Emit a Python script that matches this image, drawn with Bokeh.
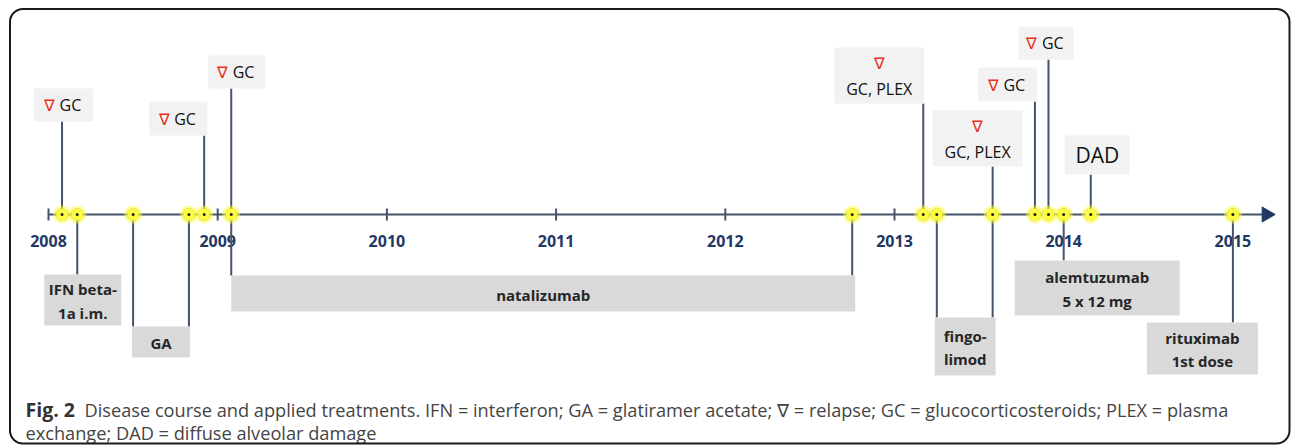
import math
from bokeh.plotting import figure
from bokeh.models import Range1d, BoxAnnotation
from bokeh.core.properties import value
from bokeh.embed import file_html
from bokeh.resources import INLINE

# ---------------- data ----------------
tick_years = [2008, 2009, 2010, 2011, 2012, 2013, 2014, 2015]
tick_labels = ["2008", "2009", "2010", "2011", "2012", "2013", "2014", "2015"]

relapse_dates = [2008.08, 2008.92, 2009.08, 2013.17, 2013.58, 2013.83, 2013.91]
relapse_therapy = ["GC", "GC", "GC", "GC, PLEX", "GC, PLEX", "GC", "GC"]

dad_dates = [2014.16]
dad_labels = ["DAD"]

treatment_names = ["IFN beta-\n1a i.m.", "GA", "natalizumab", "fingo-\nlimod",
                   "alemtuzumab\n5 x 12 mg", "rituximab\n1st dose"]
treatment_start = [2008.17, 2008.50, 2009.08, 2013.25, 2014.00, 2015.00]
treatment_end = [2008.17, 2008.83, 2012.75, 2013.58, 2014.00, 2015.00]

caption_bold = "Fig. 2"
caption_line1 = ("Disease course and applied treatments. IFN = interferon; GA = glatiramer acetate; "
                 "\u2207 = relapse; GC = glucocorticosteroids; PLEX = plasma")
caption_line2 = "exchange; DAD = diffuse alveolar damage"

# ---------------- layout / style ----------------
W, H = 1292, 447
PX = 169.2                      # pixels per year
X0 = tick_years[0] - 48 / PX
X1 = X0 + W / PX


def px2x(px):
    """canvas x pixel -> data x"""
    return X0 + px / PX


AXIS_Y = 214
AXIS_COL = "#44546a"
YEAR_COL = "#1f3864"
FONT = value("Open Sans")

# callout boxes: (dx_left, dx_right) px around event, (top, bottom) px
relapse_box_dx = [(-28, 31), (-55, 3), (-23, 34), (-89, 1), (-60, 30), (-57, 2), (-30, 25)]
relapse_box_y = [(88, 121), (101, 135), (55, 88), (47, 103), (110, 166), (67, 101), (26, 59)]
dad_box_dx = [(-26, 39)]
dad_box_y = [(135, 174)]
treat_box_dx = [(-33, 44), (-1, 1), (0, 3), (-2, 3), (-49, 116), (-86, 25)]
treat_box_y = [(274, 325), (326, 357), (275, 311), (317, 375), (260, 315), (322, 374)]

p = figure(width=W, height=H, x_range=Range1d(X0, X1), y_range=Range1d(H, 0),
           output_backend="svg", toolbar_location=None, min_border=0)
p.axis.visible = False
p.grid.visible = False
p.outline_line_color = None
p.background_fill_color = "white"

# frame border
p.add_layout(BoxAnnotation(left=px2x(9.5), right=px2x(1289), top=8.5, bottom=443,
                           fill_color=None, fill_alpha=0, line_color="#1a1a1a",
                           line_alpha=1.0, line_width=2, border_radius=13))

# main time axis
p.segment(x0=[tick_years[0]], y0=[AXIS_Y], x1=[px2x(1262)], y1=[AXIS_Y],
          line_color=AXIS_COL, line_width=2)
p.scatter(x=[px2x(1266)], y=[AXIS_Y], marker="triangle", size=15, angle=-math.pi / 2,
          fill_color=YEAR_COL, line_color=YEAR_COL)
p.segment(x0=tick_years, y0=[AXIS_Y - 6] * len(tick_years), x1=tick_years,
          y1=[AXIS_Y + 6] * len(tick_years), line_color=AXIS_COL, line_width=2)
p.text(x=tick_years, y=[240] * len(tick_years), text=tick_labels, text_font=FONT,
       text_font_size="16px", text_font_style="bold", text_color=YEAR_COL,
       text_align="center", text_baseline="middle")


def box(l, r, t, b, color):
    p.quad(left=[l], right=[r], top=[t], bottom=[b], fill_color=color, line_color=None)


# relapse callouts (above)
for d, lab, (dl, dr), (t, b) in zip(relapse_dates, relapse_therapy, relapse_box_dx, relapse_box_y):
    p.segment(x0=[d], y0=[AXIS_Y], x1=[d], y1=[b], line_color=AXIS_COL, line_width=2)
    l, r = d + dl / PX, d + dr / PX
    box(l, r, t, b, "#f2f2f2")
    cx = (l + r) / 2
    if "," in lab:
        p.text(x=[cx], y=[t + 15], text=["\u2207"], text_font=FONT, text_font_size="16px",
               text_color="#e8321e", text_align="center", text_baseline="middle")
        p.text(x=[cx], y=[b - 15], text=[lab], text_font=FONT, text_font_size="16px",
               text_color="#111111", text_align="center", text_baseline="middle")
    else:
        ym = (t + b) / 2
        p.text(x=[cx], y=[ym], x_offset=-14, text=["\u2207"], text_font=FONT,
               text_font_size="16px", text_color="#e8321e", text_align="center",
               text_baseline="middle")
        p.text(x=[cx], y=[ym], x_offset=-4, text=[lab], text_font=FONT,
               text_font_size="16px", text_color="#111111", text_align="left",
               text_baseline="middle")

# DAD callout
for d, lab, (dl, dr), (t, b) in zip(dad_dates, dad_labels, dad_box_dx, dad_box_y):
    p.segment(x0=[d], y0=[AXIS_Y], x1=[d], y1=[b], line_color=AXIS_COL, line_width=2)
    l, r = d + dl / PX, d + dr / PX
    box(l, r, t, b, "#f2f2f2")
    p.text(x=[(l + r) / 2], y=[(t + b) / 2], text=[lab], text_font=FONT,
           text_font_size="21px", text_color="#111111", text_align="center",
           text_baseline="middle")

# treatment callouts (below)
for name, s, e, (dl, dr), (t, b) in zip(treatment_names, treatment_start, treatment_end,
                                        treat_box_dx, treat_box_y):
    stems = [s] if e == s else [s, e]
    p.segment(x0=stems, y0=[AXIS_Y] * len(stems), x1=stems, y1=[t] * len(stems),
              line_color=AXIS_COL, line_width=2)
    l, r = s + dl / PX, e + dr / PX
    box(l, r, t, b, "#d9d9d9")
    lines = name.split("\n")
    n = len(lines)
    ym = (t + b) / 2 + 1
    for i, ln in enumerate(lines):
        p.text(x=[(l + r) / 2], y=[ym + (i - (n - 1) / 2) * 23.5], text=[ln], text_font=FONT,
               text_font_size="15px", text_font_style="bold", text_color="#262626",
               text_align="center", text_baseline="middle")

# event markers on the axis
event_dates = sorted(set(relapse_dates + dad_dates + treatment_start + treatment_end))
ny = [AXIS_Y] * len(event_dates)
p.scatter(x=event_dates, y=ny, size=18, fill_color="#ffff33", fill_alpha=0.5, line_color=None)
p.scatter(x=event_dates, y=ny, size=12, fill_color="#ffff3c", fill_alpha=0.95,
          line_color="#c9c94a", line_width=1, line_dash="1 1")
p.scatter(x=event_dates, y=ny, size=3, fill_color="#222222", line_color=None)

# caption
p.text(x=[px2x(25)], y=[409], text=[caption_bold], text_font=FONT, text_font_size="19.5px",
       text_font_style="bold", text_color="#333333", text_align="left", text_baseline="alphabetic")
p.text(x=[px2x(84)], y=[409], text=[caption_line1], text_font=FONT, text_font_size="18.2px",
       text_color="#444444", text_align="left", text_baseline="alphabetic")
p.text(x=[px2x(25)], y=[432], text=[caption_line2], text_font=FONT, text_font_size="18.2px",
       text_color="#444444", text_align="left", text_baseline="alphabetic")

open("out.html", "w").write(file_html(p, INLINE))
